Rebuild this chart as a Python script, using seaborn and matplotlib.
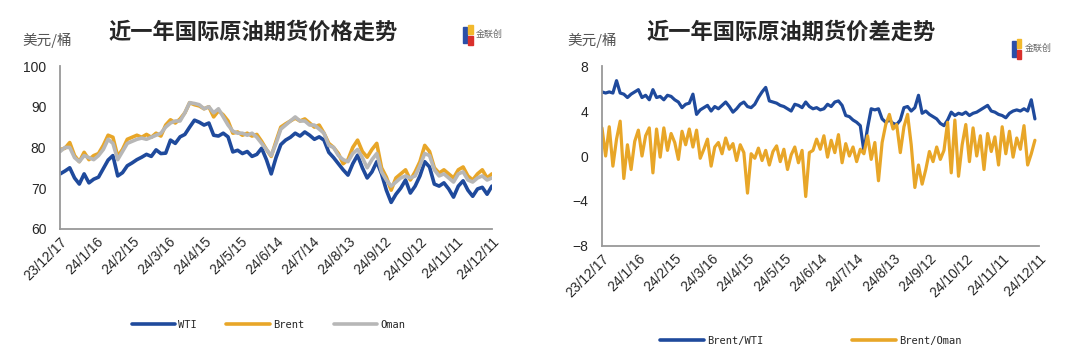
import numpy as np
import pandas as pd
import seaborn as sns
import matplotlib.pyplot as plt
from matplotlib.lines import Line2D
from matplotlib.patches import Rectangle

# Datos (precios cada 4 días, diferenciales cada 3 días)
fecha_inicio = "2023-12-17"
etiquetas_x = ["23/12/17", "24/1/16", "24/2/15", "24/3/16", "24/4/15", "24/5/15", "24/6/14",
               "24/7/14", "24/8/13", "24/9/12", "24/10/12", "24/11/11", "24/12/11"]

wti = [73.5, 74.2, 75.0, 72.5, 71.0, 73.5, 71.3, 72.2, 72.7, 74.8,
       76.9, 78.0, 73.0, 73.8, 75.5, 76.2, 77.0, 77.6, 78.3, 77.8,
       79.4, 78.5, 78.6, 81.8, 81.0, 82.6, 83.2, 85.0, 86.7, 86.2,
       85.5, 86.0, 83.0, 82.8, 83.5, 82.6, 78.9, 79.3, 78.5, 79.0,
       77.8, 78.3, 79.8, 77.0, 73.5, 77.5, 80.7, 81.8, 82.5, 83.5,
       82.8, 83.8, 83.0, 82.0, 82.6, 81.8, 78.8, 77.5, 76.0, 74.5,
       73.2, 76.0, 78.1, 75.0, 72.5, 74.0, 76.5, 73.5, 69.5, 66.5,
       68.5, 70.0, 72.0, 68.8, 70.5, 73.0, 76.5, 75.2, 71.0, 70.5,
       71.3, 69.8, 67.8, 70.5, 71.8, 69.5, 68.0, 69.8, 70.2, 68.5,
       70.5]
brent = [79.5, 79.8, 81.2, 78.0, 76.5, 78.8, 77.0, 78.0, 78.5, 80.5,
         83.0, 82.5, 77.8, 79.5, 82.0, 82.5, 83.0, 82.5, 83.2, 82.5,
         83.5, 82.8, 85.5, 86.8, 86.0, 87.0, 88.5, 91.0, 90.5, 90.2,
         89.5, 90.0, 87.5, 89.0, 88.0, 86.5, 83.5, 83.8, 83.0, 83.5,
         82.8, 83.2, 81.5, 79.5, 77.8, 81.5, 85.0, 85.8, 86.5, 87.2,
         86.5, 87.0, 86.0, 85.0, 85.5, 83.5, 81.0, 80.0, 78.5, 76.0,
         77.0, 80.0, 81.8, 79.0, 77.6, 79.5, 81.0, 75.0, 72.7, 69.5,
         72.5, 73.5, 74.5, 72.0, 74.0, 76.5, 80.5, 79.0, 75.0, 73.7,
         74.5, 73.5, 72.5, 74.5, 75.2, 73.0, 72.0, 73.5, 74.5, 72.5,
         73.5]
oman = [79.0, 80.0, 80.0, 77.5, 76.5, 78.0, 77.5, 77.0, 78.0, 79.5,
        82.0, 81.0, 77.0, 79.0, 81.0, 81.5, 82.0, 82.3, 82.0, 82.5,
        83.0, 83.5, 85.0, 86.0, 86.5, 86.5, 88.5, 91.0, 90.8, 90.5,
        89.5, 90.0, 88.5, 89.5, 87.5, 85.5, 84.0, 83.5, 83.5, 83.0,
        83.5, 82.5, 81.0, 79.5, 78.0, 81.0, 84.5, 85.5, 86.5, 87.5,
        86.5, 86.5, 85.5, 85.5, 84.5, 83.5, 80.5, 80.0, 78.0, 77.0,
        76.5, 78.5, 79.5, 77.5, 75.0, 77.0, 78.5, 74.0, 72.0, 70.5,
        71.5, 72.5, 73.0, 72.5, 73.0, 75.5, 78.5, 78.0, 74.5, 73.0,
        73.5, 72.5, 71.5, 73.5, 74.0, 72.0, 71.5, 72.5, 73.0, 72.0,
        72.5]

brent_wti = [5.7, 5.6, 5.7, 5.6, 6.7, 5.6, 5.5, 5.2, 5.5, 5.7,
             5.9, 5.2, 5.4, 5.0, 5.9, 5.2, 5.3, 5.0, 5.4, 5.3,
             5.0, 4.8, 4.3, 4.6, 4.7, 5.5, 3.7, 4.1, 4.3, 4.5,
             4.0, 4.4, 4.2, 4.5, 4.8, 4.4, 3.9, 4.2, 4.6, 4.8,
             4.4, 4.3, 4.6, 5.2, 5.7, 6.1, 4.9, 4.8, 4.7, 4.5,
             4.4, 4.2, 4.0, 4.6, 4.5, 4.3, 4.8, 4.4, 4.2, 4.3,
             4.1, 4.2, 4.6, 4.4, 4.8, 4.9, 4.5, 3.6, 3.5, 3.2,
             3.0, 2.7, 0.4, 2.5, 4.2, 4.1, 4.2, 3.3, 3.0, 3.2,
             2.9, 2.8, 3.2, 4.3, 4.4, 4.0, 4.3, 5.4, 3.8, 4.0,
             3.7, 3.5, 3.3, 2.9, 2.7, 3.2, 3.9, 3.6, 3.8, 3.7,
             3.9, 3.6, 3.8, 3.9, 4.1, 4.3, 4.5, 4.0, 3.9, 3.7,
             3.6, 3.4, 3.8, 4.0, 4.1, 4.0, 4.2, 4.0, 5.0, 3.3]
brent_oman = [2.5, 0.0, 2.6, -0.9, 1.5, 3.1, -2.0, 1.0, -1.2, 1.3,
              2.3, 0.0, 1.8, 2.5, -1.5, 2.4, -0.1, 2.5, 0.5, 2.0,
              1.2, -0.3, 2.2, 1.0, 2.4, 0.8, 2.3, -0.2, 0.6, 1.5,
              -0.9, 0.8, 1.2, 0.2, 1.6, 0.6, 1.1, -0.4, 1.0, 0.3,
              -3.3, 0.2, -0.2, 0.7, -0.4, 0.5, -0.8, 0.4, 0.9, -0.5,
              0.6, -1.2, 0.1, 0.8, -0.6, 0.5, -3.6, 0.3, 0.5, 1.5,
              0.6, 1.8, -0.1, 1.4, 0.3, 1.9, -0.6, 1.1, 0.0, 0.8,
              -0.5, 0.6, 0.2, 1.8, -0.3, 1.2, -2.2, 1.2, 2.8, 3.7,
              2.4, 2.8, 0.3, 2.6, 3.7, 1.0, -2.8, -0.8, -2.5, -1.2,
              0.4, -0.5, 0.8, -0.3, 0.5, 3.0, -1.5, 3.2, -1.8, 1.0,
              2.8, -0.5, 2.5, 0.0, 1.8, -1.2, 2.0, 0.4, 1.7, -0.8,
              2.6, 0.2, 2.2, -0.1, 1.6, 0.6, 2.7, -0.8, 0.2, 1.4]

colores = {"WTI": "#1F4A9C", "Brent": "#E8A628", "Oman": "#B7B7B7",
           "Brent/WTI": "#1F4A9C", "Brent/Oman": "#E8A628"}

sns.set_style("white")
plt.rcParams["font.family"] = ["Liberation Sans", "Noto Sans CJK SC", "DejaVu Sans"]

fechas_p = pd.date_range(fecha_inicio, periods=len(wti), freq="4D")
fechas_d = pd.date_range(fecha_inicio, periods=len(brent_wti), freq="3D")
precios = pd.DataFrame({"fecha": fechas_p, "WTI": wti, "Brent": brent, "Oman": oman}).melt(
    id_vars="fecha", var_name="serie", value_name="valor")
difs = pd.DataFrame({"fecha": fechas_d, "Brent/WTI": brent_wti, "Brent/Oman": brent_oman}).melt(
    id_vars="fecha", var_name="serie", value_name="valor")
ticks_x = pd.to_datetime(etiquetas_x, format="%y/%m/%d")

fig = plt.figure(figsize=(10.74, 3.57), dpi=100)
ax1 = fig.add_axes([0.056, 0.359, 0.402, 0.456])
ax2 = fig.add_axes([0.5605, 0.311, 0.4065, 0.504])


def estilo_eje(ax, yticks):
    ax.set_xlim(ticks_x[0], ticks_x[-1])
    ax.set_ylim(yticks[0], yticks[-1])
    ax.set_yticks(yticks)
    ax.set_xticks(ticks_x)
    ax.set_xticklabels(etiquetas_x, rotation=45, ha="right", rotation_mode="anchor", fontsize=10)
    ax.tick_params(axis="both", direction="in", length=4, color="#888888", labelsize=10, pad=4)
    ax.tick_params(axis="y", pad=10)
    for lado in ["top", "right"]:
        ax.spines[lado].set_visible(False)
    for lado in ["left", "bottom"]:
        ax.spines[lado].set_color("#999999")
        ax.spines[lado].set_linewidth(1.3)
    ax.set_xlabel("")
    ax.set_ylabel("")


sns.lineplot(data=precios, x="fecha", y="valor", hue="serie", hue_order=["WTI", "Brent", "Oman"],
             palette=colores, linewidth=2.6, ax=ax1, legend=False)
estilo_eje(ax1, [60, 70, 80, 90, 100])

sns.lineplot(data=difs, x="fecha", y="valor", hue="serie", hue_order=["Brent/WTI", "Brent/Oman"],
             palette=colores, linewidth=2.3, ax=ax2, legend=False)
estilo_eje(ax2, [-8, -4, 0, 4, 8])

# Títulos y unidades
fig.text(0.236, 0.91, "近一年国际原油期货价格走势", ha="center", va="center", fontsize=16,
         fontweight="heavy", family="Noto Sans CJK SC")
fig.text(0.737, 0.91, "近一年国际原油期货价差走势", ha="center", va="center", fontsize=16,
         fontweight="heavy", family="Noto Sans CJK SC")
fig.text(0.021, 0.888, "美元/桶", ha="left", va="center", fontsize=10.5, color="#555555",
         family="Noto Sans CJK SC")
fig.text(0.528, 0.888, "美元/桶", ha="left", va="center", fontsize=10.5, color="#555555",
         family="Noto Sans CJK SC")

# Logos aproximados
for x0, y0 in [(0.431, 0.88), (0.942, 0.84)]:
    fig.patches.append(Rectangle((x0, y0), 0.004, 0.045, color="#2B4FA8", transform=fig.transFigure))
    fig.patches.append(Rectangle((x0 + 0.005, y0 + 0.025), 0.004, 0.025, color="#F2B92D", transform=fig.transFigure))
    fig.patches.append(Rectangle((x0 + 0.005, y0 - 0.005), 0.004, 0.025, color="#D9302C", transform=fig.transFigure))
    fig.text(x0 + 0.012, y0 + 0.025, "金联创", fontsize=6.5, color="#666666", va="center",
             family="Noto Sans CJK SC")

# Leyendas
def manejadores(nombres):
    return [Line2D([0], [0], color=colores[n], linewidth=2.6) for n in nombres]


fig.legend(manejadores(["WTI", "Brent", "Oman"]), ["WTI", "Brent", "Oman"], loc="center",
           bbox_to_anchor=(0.25, 0.09), ncol=3, frameon=False, handlelength=4.2, handletextpad=0.3,
           columnspacing=2.8, prop={"family": "DejaVu Sans Mono", "size": 7.5})
fig.legend(manejadores(["Brent/WTI", "Brent/Oman"]), ["Brent/WTI", "Brent/Oman"], loc="center",
           bbox_to_anchor=(0.755, 0.045), ncol=2, frameon=False, handlelength=4.2, handletextpad=0.3,
           columnspacing=8.5, prop={"family": "DejaVu Sans Mono", "size": 7.5})

plt.savefig("out.png", dpi=100)
plt.close()
